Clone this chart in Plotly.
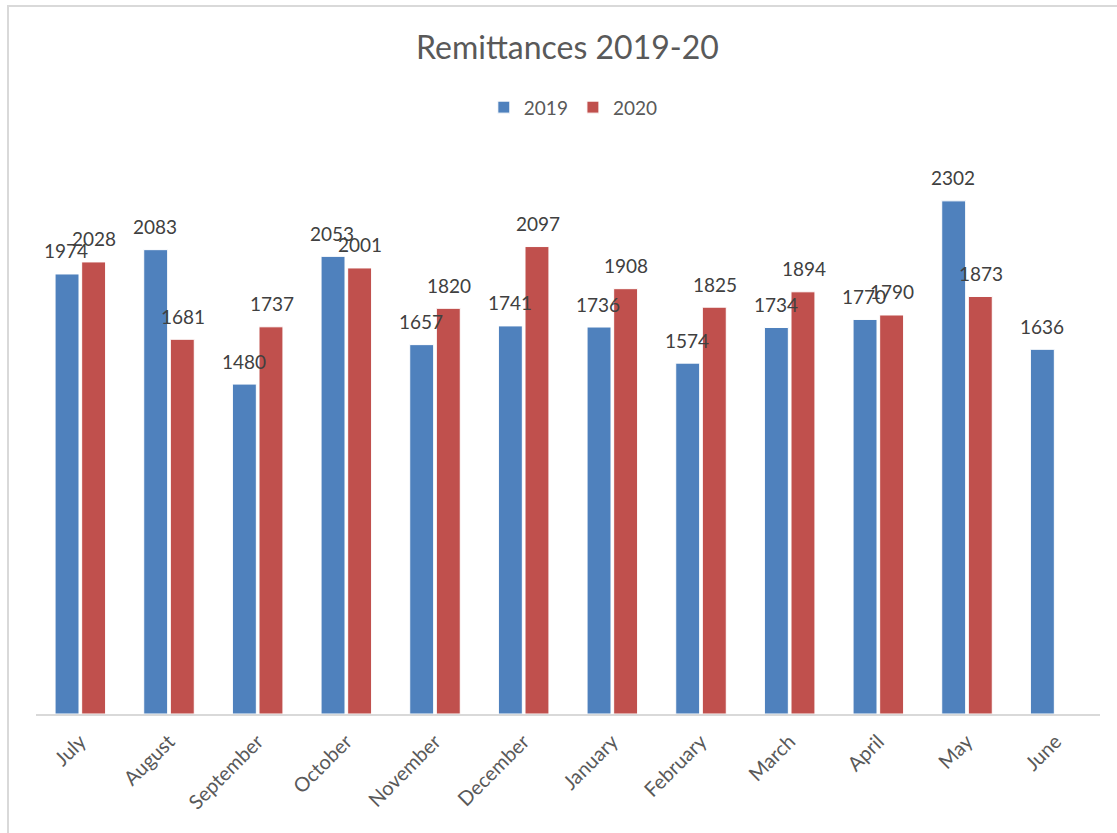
import plotly.graph_objects as go

months = ["July", "August", "September", "October", "November", "December",
          "January", "February", "March", "April", "May", "June"]
remit_2019 = [1974, 2083, 1480, 2053, 1657, 1741, 1736, 1574, 1734, 1770, 2302, 1636]
remit_2020 = [2028, 1681, 1737, 2001, 1820, 2097, 1908, 1825, 1894, 1790, 1873, None]

FONT = "Lato"
BLUE = "#4F81BD"
RED = "#C0504D"

fig = go.Figure()
for name, values, color in [("2019", remit_2019, BLUE), ("2020", remit_2020, RED)]:
    fig.add_trace(go.Bar(
        name=name, x=months, y=values,
        marker=dict(color=color, line=dict(color="white", width=1)),
    ))

# value labels above each bar, drawn on top of all bars
for values, shift in [(remit_2019, -14), (remit_2020, 14)]:
    for m, v in zip(months, values):
        if v is None:
            continue
        fig.add_annotation(x=m, y=v, text=str(v), showarrow=False,
                           xshift=shift, yshift=23, yanchor="middle",
                           font=dict(family=FONT, size=19, color="#404040"))

fig.update_layout(
    width=1117, height=833,
    margin=dict(l=36, r=17, t=140, b=119),
    paper_bgcolor="white", plot_bgcolor="white",
    barmode="group", bargap=0.4, bargroupgap=0.1,
    title=dict(text="Remittances 2019-20", x=0.508, xanchor="center",
               y=1 - 48 / 833, yanchor="middle",
               font=dict(family=FONT, size=32, color="#595959")),
    legend=dict(orientation="h", x=0.505, xanchor="center", y=1.057, yanchor="middle",
                font=dict(family=FONT, size=19, color="#595959"),
                itemwidth=30, traceorder="normal"),
    xaxis=dict(showline=True, linecolor="#d9d9d9", linewidth=2,
               tickangle=-45, ticks="", showgrid=False, ticklabelstandoff=6,
               tickfont=dict(family=FONT, size=20, color="#595959")),
    yaxis=dict(range=[0, 2575], visible=False, showgrid=False, zeroline=False),
    showlegend=True,
)

# light frame around the chart area
fig.add_shape(type="rect", xref="paper", yref="paper",
              x0=(8 - 36) / 1064, x1=1.2, y0=-0.5, y1=(714 - 6) / 574,
              line=dict(color="#d9d9d9", width=2), layer="below")

fig.write_html("out.html")
